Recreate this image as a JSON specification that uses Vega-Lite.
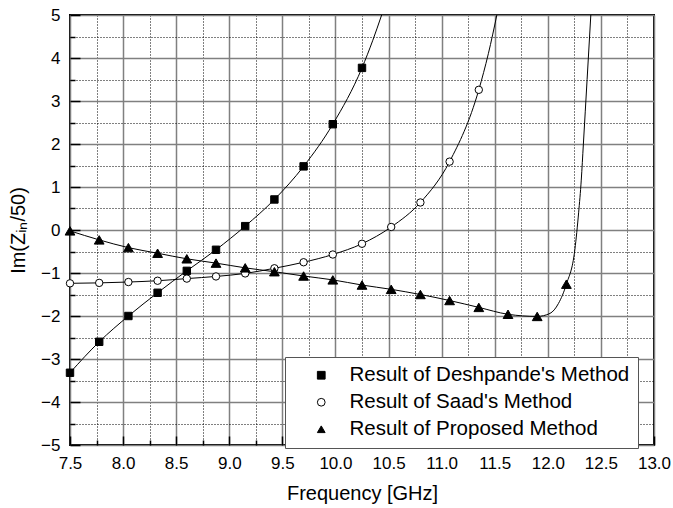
{
  "$schema": "https://vega.github.io/schema/vega-lite/v6.json",
  "autosize": "none",
  "width": 584,
  "height": 430,
  "padding": {"left": 70, "top": 15, "right": 19, "bottom": 63},
  "background": "white",
  "config": {
    "font": "Liberation Sans",
    "view": {"stroke": "black", "strokeWidth": 2},
    "axis": {"labelFont": "Liberation Sans", "titleFont": "Liberation Sans", "labelColor": "black", "titleColor": "black"}
  },
  "datasets": {
    "markers": [
      {"series": "Result of Deshpande's Method", "freq": 7.5, "im": -3.32},
      {"series": "Result of Deshpande's Method", "freq": 7.775, "im": -2.6},
      {"series": "Result of Deshpande's Method", "freq": 8.05, "im": -2.0},
      {"series": "Result of Deshpande's Method", "freq": 8.325, "im": -1.46},
      {"series": "Result of Deshpande's Method", "freq": 8.6, "im": -0.95},
      {"series": "Result of Deshpande's Method", "freq": 8.875, "im": -0.46},
      {"series": "Result of Deshpande's Method", "freq": 9.15, "im": 0.09},
      {"series": "Result of Deshpande's Method", "freq": 9.425, "im": 0.71},
      {"series": "Result of Deshpande's Method", "freq": 9.7, "im": 1.48},
      {"series": "Result of Deshpande's Method", "freq": 9.975, "im": 2.46},
      {"series": "Result of Deshpande's Method", "freq": 10.25, "im": 3.77},
      {"series": "Result of Saad's Method", "freq": 7.5, "im": -1.24},
      {"series": "Result of Saad's Method", "freq": 7.775, "im": -1.23},
      {"series": "Result of Saad's Method", "freq": 8.05, "im": -1.21},
      {"series": "Result of Saad's Method", "freq": 8.325, "im": -1.18},
      {"series": "Result of Saad's Method", "freq": 8.6, "im": -1.13},
      {"series": "Result of Saad's Method", "freq": 8.875, "im": -1.08},
      {"series": "Result of Saad's Method", "freq": 9.15, "im": -1.01},
      {"series": "Result of Saad's Method", "freq": 9.425, "im": -0.89},
      {"series": "Result of Saad's Method", "freq": 9.7, "im": -0.75},
      {"series": "Result of Saad's Method", "freq": 9.975, "im": -0.57},
      {"series": "Result of Saad's Method", "freq": 10.25, "im": -0.32},
      {"series": "Result of Saad's Method", "freq": 10.525, "im": 0.07},
      {"series": "Result of Saad's Method", "freq": 10.8, "im": 0.64},
      {"series": "Result of Saad's Method", "freq": 11.075, "im": 1.59},
      {"series": "Result of Saad's Method", "freq": 11.35, "im": 3.26},
      {"series": "Result of Proposed Method", "freq": 7.5, "im": -0.02},
      {"series": "Result of Proposed Method", "freq": 7.775, "im": -0.23},
      {"series": "Result of Proposed Method", "freq": 8.05, "im": -0.41},
      {"series": "Result of Proposed Method", "freq": 8.325, "im": -0.54},
      {"series": "Result of Proposed Method", "freq": 8.6, "im": -0.67},
      {"series": "Result of Proposed Method", "freq": 8.875, "im": -0.77},
      {"series": "Result of Proposed Method", "freq": 9.15, "im": -0.88},
      {"series": "Result of Proposed Method", "freq": 9.425, "im": -0.97},
      {"series": "Result of Proposed Method", "freq": 9.7, "im": -1.07},
      {"series": "Result of Proposed Method", "freq": 9.975, "im": -1.16},
      {"series": "Result of Proposed Method", "freq": 10.25, "im": -1.28},
      {"series": "Result of Proposed Method", "freq": 10.525, "im": -1.38},
      {"series": "Result of Proposed Method", "freq": 10.8, "im": -1.5},
      {"series": "Result of Proposed Method", "freq": 11.075, "im": -1.64},
      {"series": "Result of Proposed Method", "freq": 11.35, "im": -1.8},
      {"series": "Result of Proposed Method", "freq": 11.625, "im": -1.96},
      {"series": "Result of Proposed Method", "freq": 11.9, "im": -2.01},
      {"series": "Result of Proposed Method", "freq": 12.175, "im": -1.26}
    ],
    "curves": [
      {"series": "D", "freq": 7.5, "im": -3.32},
      {"series": "D", "freq": 7.775, "im": -2.6},
      {"series": "D", "freq": 8.05, "im": -2.0},
      {"series": "D", "freq": 8.325, "im": -1.46},
      {"series": "D", "freq": 8.6, "im": -0.95},
      {"series": "D", "freq": 8.875, "im": -0.46},
      {"series": "D", "freq": 9.15, "im": 0.09},
      {"series": "D", "freq": 9.425, "im": 0.71},
      {"series": "D", "freq": 9.7, "im": 1.48},
      {"series": "D", "freq": 9.975, "im": 2.46},
      {"series": "D", "freq": 10.25, "im": 3.77},
      {"series": "D", "freq": 10.35, "im": 4.4},
      {"series": "D", "freq": 10.435, "im": 5.0},
      {"series": "S", "freq": 7.5, "im": -1.24},
      {"series": "S", "freq": 7.775, "im": -1.23},
      {"series": "S", "freq": 8.05, "im": -1.21},
      {"series": "S", "freq": 8.325, "im": -1.18},
      {"series": "S", "freq": 8.6, "im": -1.13},
      {"series": "S", "freq": 8.875, "im": -1.08},
      {"series": "S", "freq": 9.15, "im": -1.01},
      {"series": "S", "freq": 9.425, "im": -0.89},
      {"series": "S", "freq": 9.7, "im": -0.75},
      {"series": "S", "freq": 9.975, "im": -0.57},
      {"series": "S", "freq": 10.25, "im": -0.32},
      {"series": "S", "freq": 10.525, "im": 0.07},
      {"series": "S", "freq": 10.8, "im": 0.64},
      {"series": "S", "freq": 11.075, "im": 1.59},
      {"series": "S", "freq": 11.35, "im": 3.26},
      {"series": "S", "freq": 11.44, "im": 4.1},
      {"series": "S", "freq": 11.52, "im": 5.0},
      {"series": "P", "freq": 7.5, "im": -0.02},
      {"series": "P", "freq": 7.775, "im": -0.23},
      {"series": "P", "freq": 8.05, "im": -0.41},
      {"series": "P", "freq": 8.325, "im": -0.54},
      {"series": "P", "freq": 8.6, "im": -0.67},
      {"series": "P", "freq": 8.875, "im": -0.77},
      {"series": "P", "freq": 9.15, "im": -0.88},
      {"series": "P", "freq": 9.425, "im": -0.97},
      {"series": "P", "freq": 9.7, "im": -1.07},
      {"series": "P", "freq": 9.975, "im": -1.16},
      {"series": "P", "freq": 10.25, "im": -1.28},
      {"series": "P", "freq": 10.525, "im": -1.38},
      {"series": "P", "freq": 10.8, "im": -1.5},
      {"series": "P", "freq": 11.075, "im": -1.64},
      {"series": "P", "freq": 11.35, "im": -1.8},
      {"series": "P", "freq": 11.625, "im": -1.96},
      {"series": "P", "freq": 11.9, "im": -2.01},
      {"series": "P", "freq": 12.02, "im": -1.94},
      {"series": "P", "freq": 12.1, "im": -1.71},
      {"series": "P", "freq": 12.175, "im": -1.26},
      {"series": "P", "freq": 12.255, "im": -0.45},
      {"series": "P", "freq": 12.29, "im": 0.4},
      {"series": "P", "freq": 12.315, "im": 1.16},
      {"series": "P", "freq": 12.335, "im": 2.0},
      {"series": "P", "freq": 12.37, "im": 3.5},
      {"series": "P", "freq": 12.405, "im": 5.0}
    ]
  },
  "layer": [
    {
      "data": {"name": "curves"},
      "mark": {"type": "line", "interpolate": "monotone", "clip": true, "color": "black", "strokeWidth": 1},
      "encoding": {
        "x": {"field": "freq", "type": "quantitative", "scale": {"domain": [7.5, 13], "nice": false, "zero": false},
          "axis": {"orient": "bottom", "values": [7.75, 8.25, 8.75, 9.25, 9.75, 10.25, 10.75, 11.25, 11.75, 12.25, 12.75],
            "grid": true, "gridColor": "black", "gridDash": [1, 2], "gridWidth": 1, "labels": false, "domain": false,
            "ticks": true, "tickSize": -5, "tickColor": "black", "tickWidth": 1.5, "title": null}},
        "y": {"field": "im", "type": "quantitative", "scale": {"domain": [-5, 5], "nice": false, "zero": false},
          "axis": {"orient": "left", "values": [-4.5, -3.5, -2.5, -1.5, -0.5, 0.5, 1.5, 2.5, 3.5, 4.5],
            "grid": true, "gridColor": "black", "gridDash": [1, 2], "gridWidth": 1, "labels": false, "domain": false,
            "ticks": true, "tickSize": -5, "tickColor": "black", "tickWidth": 1.5, "title": null}},
        "detail": {"field": "series"}
      }
    },
    {
      "data": {"name": "markers"},
      "mark": {"type": "point", "strokeWidth": 1, "opacity": 1},
      "encoding": {
        "x": {"field": "freq", "type": "quantitative",
          "axis": {"orient": "bottom", "values": [7.5, 8, 8.5, 9, 9.5, 10, 10.5, 11, 11.5, 12, 12.5, 13], "format": ".1f",
            "grid": true, "gridColor": "#808080", "gridWidth": 1.5, "domain": false,
            "ticks": true, "tickSize": -9, "tickColor": "black", "tickWidth": 1.5,
            "labelFontSize": 17, "labelPadding": 19, "labelFlush": false,
            "title": "Frequency [GHz]", "titleFontSize": 20, "titleFontWeight": "normal", "titlePadding": 12}},
        "y": {"field": "im", "type": "quantitative",
          "axis": {"orient": "left", "values": [-5, -4, -3, -2, -1, 0, 1, 2, 3, 4, 5], "format": "d",
            "grid": true, "gridColor": "#808080", "gridWidth": 1.5, "domain": false,
            "ticks": true, "tickSize": -10, "tickColor": "black", "tickWidth": 1.5,
            "labelFontSize": 17, "labelPadding": 20, "labelFlush": false,
            "title": "Im(Zᵢₙ/50)", "titleFontSize": 20, "titleFontWeight": "normal", "titlePadding": 12}},
        "size": {"condition": {"test": "datum.series == 'Result of Proposed Method'", "value": 95}, "value": 55},
        "fill": {"field": "series", "type": "nominal",
          "scale": {"domain": ["Result of Deshpande's Method", "Result of Saad's Method", "Result of Proposed Method"], "range": ["black", "white", "black"]},
          "legend": {"title": null, "orient": "none", "legendX": 215, "legendY": 342}},
        "stroke": {"field": "series", "type": "nominal",
          "scale": {"domain": ["Result of Deshpande's Method", "Result of Saad's Method", "Result of Proposed Method"], "range": ["black", "black", "black"]},
          "legend": {"title": null, "orient": "none", "legendX": 215, "legendY": 342}},
        "shape": {"field": "series", "type": "nominal",
          "scale": {"domain": ["Result of Deshpande's Method", "Result of Saad's Method", "Result of Proposed Method"], "range": ["square", "circle", "triangle-up"]},
          "legend": {
            "title": null, "orient": "none", "legendX": 215, "legendY": 342, "direction": "vertical",
            "fillColor": "white", "strokeColor": "#555555", "padding": 8,
            "labelFontSize": 20.5, "labelFont": "Liberation Sans", "labelColor": "black", "labelLimit": 400,
            "symbolSize": 60, "symbolOffset": 18, "labelOffset": 18, "rowPadding": 6,
            "symbolStrokeWidth": 1}}
      }
    }
  ],
  "resolve": {"axis": {"x": "independent", "y": "independent"}}
}
